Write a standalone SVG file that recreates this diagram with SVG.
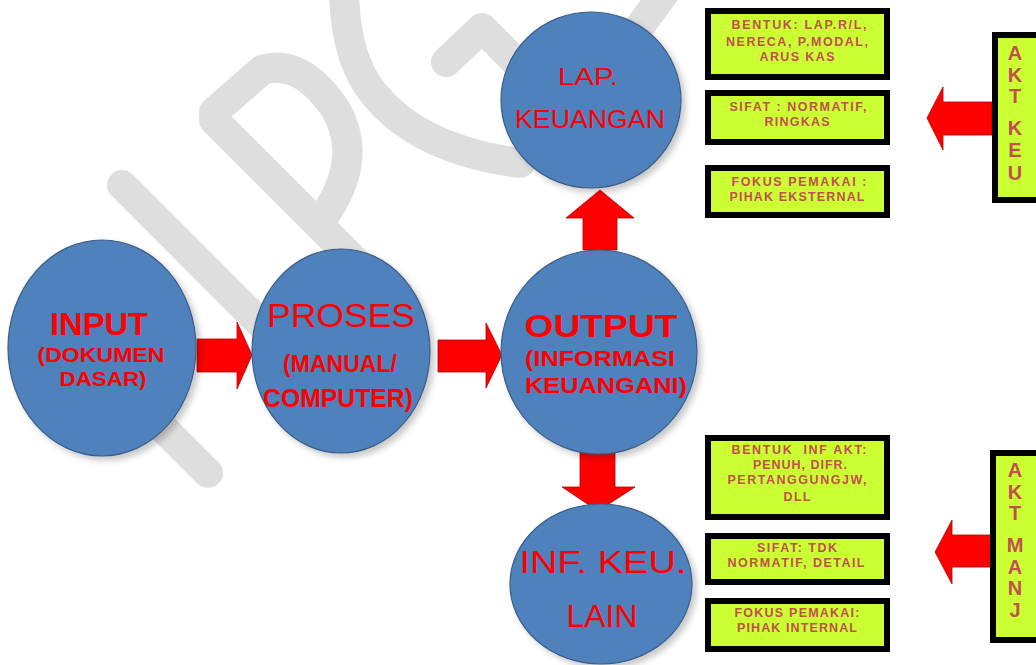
<svg xmlns="http://www.w3.org/2000/svg" width="1036" height="665" viewBox="0 0 1036 665">
<defs>
<filter id="sh" x="-20%" y="-20%" width="150%" height="150%">
<feGaussianBlur in="SourceAlpha" stdDeviation="3"/>
<feOffset dx="4" dy="4" result="b"/>
<feComponentTransfer><feFuncA type="linear" slope="0.22"/></feComponentTransfer>
<feMerge><feMergeNode/><feMergeNode in="SourceGraphic"/></feMerge>
</filter>
</defs>
<style>
.wm{fill:none;stroke:#dedede;stroke-width:30;stroke-linecap:round;stroke-linejoin:round}
.c{fill:#4f81bd;stroke:#3a5d88;stroke-width:1.2;filter:url(#sh)}
.ct{fill:#ff0000;font-family:"Liberation Sans",Arial,sans-serif;text-anchor:middle}
.b{font-weight:bold}
.ar{fill:#ff0000;stroke:#b00000;stroke-width:0.8}
.gb{fill:#ccff33;stroke:#000;stroke-width:6}
.gt{fill:#c0504d;font-family:"Liberation Sans",Arial,sans-serif;font-weight:bold;font-size:12.5px;text-anchor:middle}
.vt{fill:#c0504d;font-family:"Liberation Sans",Arial,sans-serif;font-weight:bold;font-size:20px;text-anchor:middle}
</style>
<rect width="1036" height="665" fill="#fff"/>
<g id="watermark">
<line class="wm" x1="122" y1="185" x2="280" y2="343"/>
<line class="wm" x1="90" y1="355" x2="208" y2="473"/>
<line class="wm" x1="214" y1="120" x2="390" y2="296"/>
<path class="wm" d="M214,112 L262,70 Q300,58 335,108 Q366,160 320,222"/>
<path class="wm" d="M344,-10 Q345,60 375,95 Q420,150 520,163"/>
<path class="wm" d="M446,62 L482,28 L530,76"/>
<line class="wm" x1="668" y1="-12" x2="630" y2="40"/>
</g>
<g id="connectors">
<polygon class="ar" points="197,339 237,339 237,322 252,355 237,389 237,372 197,372"/>
<polygon class="ar" points="438,340 486,340 486,323 502,355 486,388 486,372 438,372"/>
<polygon class="ar" points="583,250 583,218 566,218 600,190 634,218 617,218 617,250"/>
<polygon class="ar" points="580,452 615,452 615,487 635,487 598,511 562,487 580,487"/>
<polygon class="ar" points="992,102 943,102 943,87 927,118 943,150 943,135 992,135"/>
<polygon class="ar" points="992,535 952,535 952,520 935,552 952,584 952,567 992,567"/>
</g>
<g id="input">
<ellipse class="c" cx="102" cy="348" rx="94" ry="108"/>
<text class="ct b" x="99" y="335" font-size="32" textLength="98" lengthAdjust="spacingAndGlyphs">INPUT</text>
<text class="ct b" x="101" y="362" font-size="21" textLength="127" lengthAdjust="spacingAndGlyphs">(DOKUMEN</text>
<text class="ct b" x="103" y="386" font-size="21" textLength="87" lengthAdjust="spacingAndGlyphs">DASAR)</text>
</g>
<g id="proses">
<ellipse class="c" cx="341" cy="351" rx="89" ry="102"/>
<text class="ct" x="341" y="327" font-size="34" textLength="148" lengthAdjust="spacingAndGlyphs">PROSES</text>
<text class="ct b" x="340" y="372" font-size="23" textLength="114" lengthAdjust="spacingAndGlyphs">(MANUAL/</text>
<text class="ct b" x="338" y="407" font-size="25" textLength="150" lengthAdjust="spacingAndGlyphs">COMPUTER)</text>
</g>
<g id="output">
<ellipse class="c" cx="599" cy="352" rx="98" ry="102"/>
<text class="ct b" x="601" y="337" font-size="31" textLength="153" lengthAdjust="spacingAndGlyphs">OUTPUT</text>
<text class="ct b" x="600" y="366" font-size="22" textLength="150" lengthAdjust="spacingAndGlyphs">(INFORMASI</text>
<text class="ct b" x="606" y="393" font-size="22" textLength="162" lengthAdjust="spacingAndGlyphs">KEUANGANI)</text>
</g>
<g id="lap-keuangan">
<ellipse class="c" cx="591" cy="100" rx="90" ry="88"/>
<text class="ct" x="588" y="85" font-size="24" textLength="60" lengthAdjust="spacingAndGlyphs">LAP.</text>
<text class="ct" x="590" y="128" font-size="25" textLength="150" lengthAdjust="spacingAndGlyphs">KEUANGAN</text>
</g>
<g id="inf-keu-lain">
<ellipse class="c" cx="601" cy="584" rx="91" ry="80"/>
<text class="ct" x="603" y="573" font-size="32" textLength="167" lengthAdjust="spacingAndGlyphs">INF. KEU.</text>
<text class="ct" x="602" y="627" font-size="31" textLength="71" lengthAdjust="spacingAndGlyphs">LAIN</text>
</g>
<g id="box-bentuk-lap">
<rect class="gb" x="708" y="11" width="179" height="66"/>
<text class="gt" x="799" y="29" textLength="135">BENTUK: LAP.R/L,</text>
<text class="gt" x="797" y="46" textLength="142">NERECA, P.MODAL,</text>
<text class="gt" x="797" y="61" textLength="75">ARUS KAS</text>
</g>
<g id="box-sifat-normatif">
<rect class="gb" x="708" y="93" width="179" height="49"/>
<text class="gt" x="798" y="111" textLength="137">SIFAT : NORMATIF,</text>
<text class="gt" x="797" y="126" textLength="65">RINGKAS</text>
</g>
<g id="box-fokus-eksternal">
<rect class="gb" x="708" y="168" width="179" height="47"/>
<text class="gt" x="799" y="186" textLength="135">FOKUS PEMAKAI :</text>
<text class="gt" x="797" y="201" textLength="135">PIHAK EKSTERNAL</text>
</g>
<g id="box-bentuk-inf">
<rect class="gb" x="708" y="438" width="179" height="79"/>
<text class="gt" x="799" y="454" textLength="135" xml:space="preserve">BENTUK  INF AKT:</text>
<text class="gt" x="800" y="469" textLength="94">PENUH, DIFR.</text>
<text class="gt" x="797" y="484" textLength="139">PERTANGGUNGJW,</text>
<text class="gt" x="797" y="501" textLength="27">DLL</text>
</g>
<g id="box-sifat-tdk">
<rect class="gb" x="708" y="536" width="179" height="46"/>
<text class="gt" x="797" y="552" textLength="80">SIFAT: TDK</text>
<text class="gt" x="796" y="567" textLength="137">NORMATIF, DETAIL</text>
</g>
<g id="box-fokus-internal">
<rect class="gb" x="708" y="601" width="179" height="48"/>
<text class="gt" x="797" y="617" textLength="125">FOKUS PEMAKAI:</text>
<text class="gt" x="797" y="632" textLength="120">PIHAK INTERNAL</text>
</g>
<g id="akt-keu">
<rect class="gb" x="995" y="35" width="50" height="165"/>
<text class="vt" x="1015" y="60">A</text>
<text class="vt" x="1015" y="82">K</text>
<text class="vt" x="1015" y="103">T</text>
<text class="vt" x="1015" y="135">K</text>
<text class="vt" x="1015" y="157">E</text>
<text class="vt" x="1015" y="180">U</text>
</g>
<g id="akt-manj">
<rect class="gb" x="993" y="453" width="52" height="187"/>
<text class="vt" x="1015" y="477">A</text>
<text class="vt" x="1015" y="499">K</text>
<text class="vt" x="1015" y="520">T</text>
<text class="vt" x="1015" y="552">M</text>
<text class="vt" x="1015" y="574">A</text>
<text class="vt" x="1015" y="595">N</text>
<text class="vt" x="1015" y="617">J</text>
</g>
</svg>
